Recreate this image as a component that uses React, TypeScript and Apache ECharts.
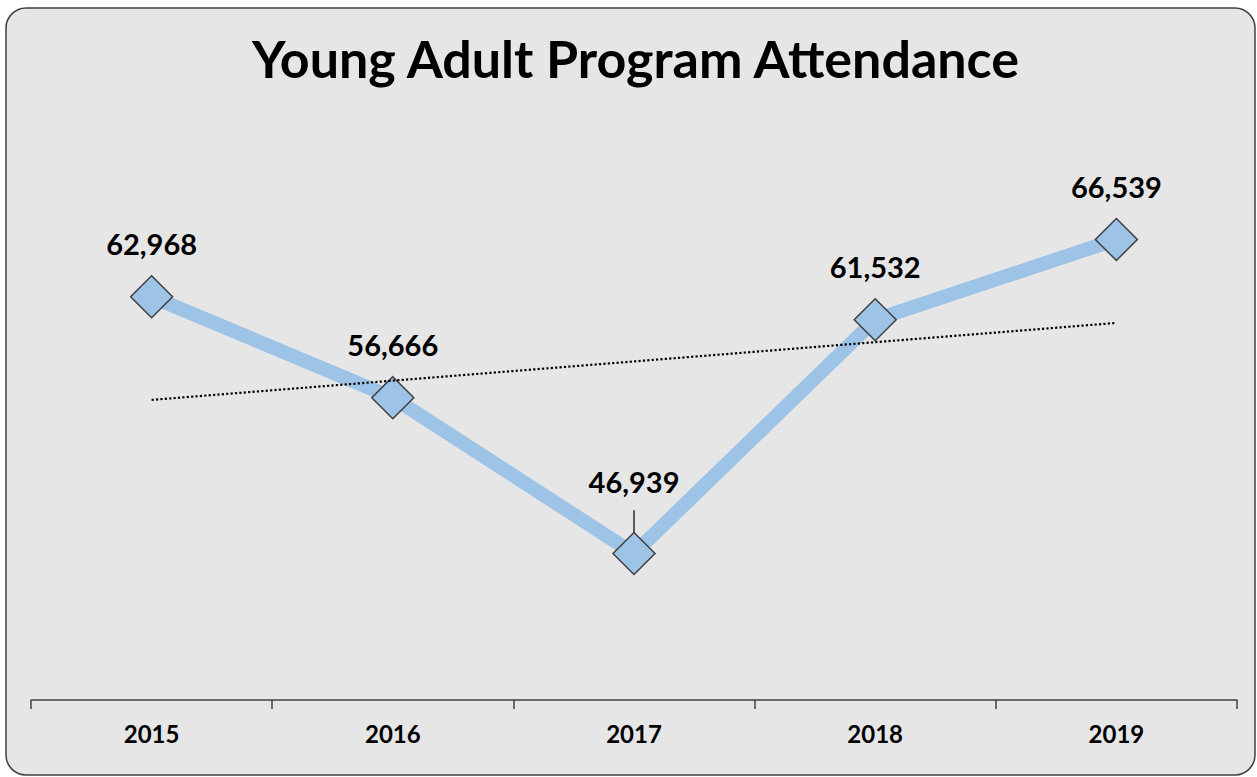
import React, { useEffect, useRef } from "react";
import * as echarts from "echarts";

const title = "Young Adult Program Attendance";
const years = ["2015", "2016", "2017", "2018", "2019"];
const attendance = [62968, 56666, 46939, 61532, 66539];

// linear trendline (least squares) computed from the attendance values
function trend(values: number[]): number[] {
  const n = values.length;
  const xs = values.map((_, i) => i + 1);
  const mx = xs.reduce((a, b) => a + b, 0) / n;
  const my = values.reduce((a, b) => a + b, 0) / n;
  let num = 0;
  let den = 0;
  xs.forEach((x, i) => {
    num += (x - mx) * (values[i] - my);
    den += (x - mx) * (x - mx);
  });
  const slope = num / den;
  return xs.map((x) => my + slope * (x - mx));
}

const FONT = "Lato, 'Open Sans', 'Noto Sans', sans-serif";

export default function App() {
  const ref = useRef<HTMLDivElement>(null);
  useEffect(() => {
    if (!ref.current) return;
    const chart = echarts.init(ref.current, undefined, { renderer: "svg" });
    chart.setOption({
      animation: false,
      backgroundColor: "#ffffff",
      graphic: [
        {
          type: "rect",
          z: -10,
          shape: { x: 6, y: 8, width: 1249, height: 767, r: 20 },
          style: { fill: "#e6e6e6", stroke: "#404040", lineWidth: 1.5 },
        },
      ],
      title: {
        text: title,
        left: 247,
        top: 27,
        textStyle: {
          fontFamily: FONT,
          fontWeight: "bold",
          fontSize: 52,
          color: "#000",
        },
      },
      grid: { left: 31, right: 20, top: 184, bottom: 77 },
      xAxis: {
        type: "category",
        data: years,
        boundaryGap: true,
        axisLine: { lineStyle: { color: "#404040", width: 1.5 } },
        axisTick: { show: true, length: 9, lineStyle: { color: "#404040", width: 1.5 } },
        axisLabel: {
          fontFamily: FONT,
          fontWeight: "bold",
          fontSize: 24,
          color: "#000",
          margin: 21,
        },
      },
      yAxis: {
        type: "value",
        min: 37800,
        max: 70000,
        show: false,
        splitLine: { show: false },
      },
      series: [
        {
          type: "line",
          name: "Attendance",
          data: attendance.map((v, i) =>
            i === 2
              ? {
                  value: v,
                  label: { distance: 36 },
                  labelLine: { show: true, lineStyle: { color: "#000", width: 1.2 } },
                }
              : v
          ),
          lineStyle: { color: "#9dc3e6", width: 14 },
          symbol: "diamond",
          symbolSize: 42,
          itemStyle: { color: "#9dc3e6", borderColor: "#404040", borderWidth: 1.5 },
          label: {
            show: true,
            position: "top",
            distance: 17,
            fontFamily: FONT,
            fontWeight: "bold",
            fontSize: 29,
            color: "#000",
            formatter: (p: any) => Number(p.value).toLocaleString("en-US"),
          },
          z: 3,
        },
        {
          type: "line",
          name: "Trend",
          data: trend(attendance),
          symbol: "none",
          lineStyle: { color: "#000", width: 2.2, type: "dotted" },
          z: 4,
          silent: true,
        },
      ],
    });
    return () => chart.dispose();
  }, []);
  return (
    <div
      ref={ref}
      style={{ position: "fixed", left: 0, top: 0, width: 1257, height: 777 }}
    />
  );
}
